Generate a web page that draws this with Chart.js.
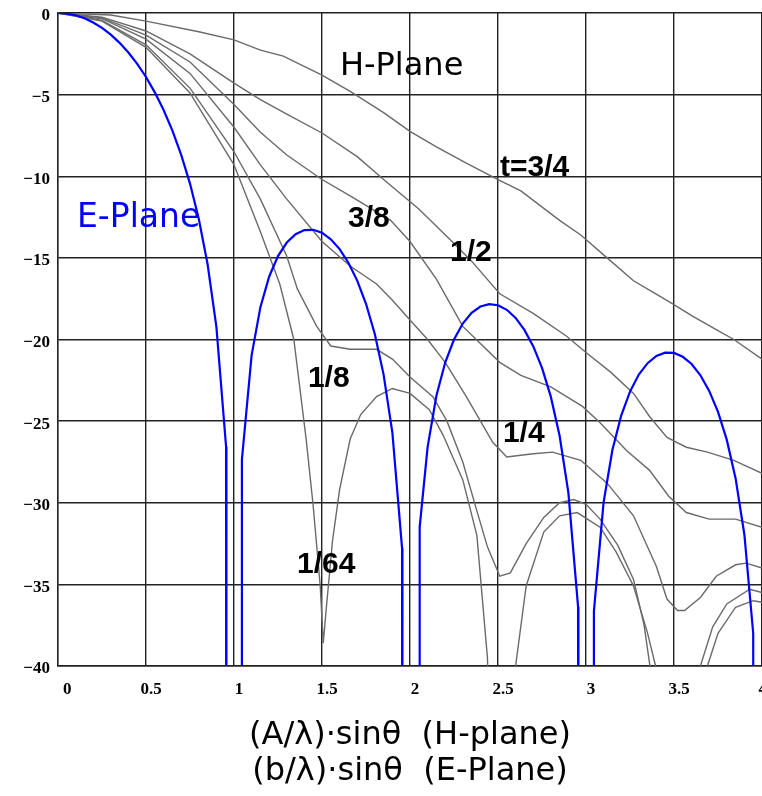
<!DOCTYPE html>
<html>
<head>
<meta charset="utf-8">
<script src="https://cdn.jsdelivr.net/npm/chart.js@4.4.1/dist/chart.umd.min.js"></script>
<style>
html,body{margin:0;padding:0;background:#fff;}
#wrap{width:762px;height:796px;position:relative;}
</style>
</head>
<body>
<div id="wrap"><canvas id="c" width="762" height="796"></canvas></div>
<script>
// ---- axes ----
const xTicks = [0, 0.5, 1, 1.5, 2, 2.5, 3, 3.5, 4];
const xTickLabels = ['0', '0.5', '1', '1.5', '2', '2.5', '3', '3.5', '4'];
const yTicks = [0, -5, -10, -15, -20, -25, -30, -35, -40];
const yTickLabels = ['0', '\u22125', '\u221210', '\u221215', '\u221220', '\u221225', '\u221230', '\u221235', '\u221240'];
const xAxisTitle = ['(A/\u03bb)\u00b7sin\u03b8  (H-plane)', '(b/\u03bb)\u00b7sin\u03b8  (E-Plane)'];

// ---- E-plane (blue) ----
const ePlaneU = [0, 0.05, 0.1, 0.15, 0.2, 0.25, 0.3, 0.35, 0.4, 0.45, 0.5, 0.55, 0.6, 0.65, 0.7, 0.75, 0.8, 0.85, 0.9, 0.955, 0.957,
  1.043, 1.045, 1.1, 1.15, 1.2, 1.25, 1.3, 1.35, 1.4, 1.45, 1.5, 1.55, 1.6, 1.65, 1.7, 1.75, 1.8, 1.85, 1.9, 1.955, 1.957,
  2.053, 2.055, 2.1, 2.15, 2.2, 2.25, 2.3, 2.35, 2.4, 2.45, 2.5, 2.55, 2.6, 2.65, 2.7, 2.75, 2.8, 2.85, 2.9, 2.955, 2.957,
  3.043, 3.045, 3.1, 3.15, 3.2, 3.25, 3.3, 3.35, 3.4, 3.45, 3.5, 3.55, 3.6, 3.65, 3.7, 3.75, 3.8, 3.85, 3.9, 3.95, 3.957, 4.0];
const ePlaneDb = [0, -0.04, -0.14, -0.32, -0.58, -0.91, -1.33, -1.83, -2.42, -3.12, -3.92, -4.86, -5.94, -7.20, -8.69, -10.45, -12.62, -15.39, -19.23, -26.57, -80,
  -80, -27.35, -20.97, -18.02, -16.14, -14.89, -14.06, -13.55, -13.30, -13.28, -13.46, -13.86, -14.46, -15.30, -16.39, -17.81, -19.66, -22.15, -25.72, -32.79, -80,
  -80, -31.49, -26.59, -23.45, -21.41, -20.00, -19.02, -18.37, -17.98, -17.83, -17.90, -18.18, -18.68, -19.41, -20.41, -21.74, -23.50, -25.90, -29.39, -36.38, -80,
  -80, -36.64, -29.97, -26.77, -24.66, -23.19, -22.15, -21.45, -21.01, -20.81, -20.82, -21.06, -21.50, -22.19, -23.15, -24.43, -26.15, -28.51, -31.96, -37.99, -80, -80];

// ---- H-plane (gray), one per phase error t ----
const t34U  = [0, 0.3, 0.5, 0.8, 1.0, 1.15, 1.28, 1.5, 1.66, 1.85, 2.0, 2.15, 2.32, 2.5, 2.63, 2.85, 2.97, 3.12, 3.27, 3.38, 3.49, 3.61, 3.74, 3.84, 4.0];
const t34Db = [0, -0.12, -0.5, -1.15, -1.65, -2.27, -2.64, -3.8, -4.8, -6.1, -7.25, -8.2, -9.2, -10.2, -10.9, -12.7, -13.6, -15.0, -16.4, -17.1, -17.8, -18.6, -19.4, -20.0, -21.2];

const t12U  = [0, 0.25, 0.5, 0.75, 1.0, 1.15, 1.3, 1.5, 1.7, 1.85, 2.05, 2.23, 2.35, 2.51, 2.7, 2.89, 3.0, 3.14, 3.27, 3.36, 3.46, 3.57, 3.69, 3.84, 4.0];
const t12Db = [0, -0.25, -1.1, -2.5, -4.3, -5.3, -6.2, -7.35, -8.8, -10.2, -12.0, -13.9, -15.2, -17.2, -18.4, -19.8, -20.8, -22.0, -23.3, -24.7, -26.0, -26.6, -26.9, -27.4, -28.2];

const t38U  = [0, 0.25, 0.5, 0.75, 1.0, 1.15, 1.3, 1.5, 1.66, 1.89, 2.0, 2.15, 2.3, 2.51, 2.63, 2.8, 2.98, 3.08, 3.23, 3.36, 3.47, 3.57, 3.7, 3.85, 4.0];
const t38Db = [0, -0.3, -1.35, -3.0, -5.6, -7.3, -8.7, -10.2, -11.2, -12.7, -14.0, -16.3, -19.2, -21.4, -22.2, -22.9, -24.1, -25.1, -26.8, -28.0, -29.6, -30.6, -31.0, -31.0, -31.5];

const t14U  = [0, 0.25, 0.5, 0.75, 1.0, 1.15, 1.3, 1.5, 1.66, 1.81, 1.9, 2.0, 2.1, 2.2, 2.32, 2.47, 2.55, 2.7, 2.81, 2.97, 3.12, 3.27, 3.4, 3.46, 3.52, 3.56, 3.65, 3.74, 3.85, 3.91, 4.0];
const t14Db = [0, -0.35, -1.6, -3.7, -7.0, -9.3, -11.4, -14.0, -15.5, -16.6, -17.6, -18.8, -20.0, -21.4, -23.5, -26.3, -27.2, -27.0, -26.9, -27.4, -28.8, -30.8, -33.9, -35.9, -36.6, -36.6, -35.8, -34.5, -33.8, -33.7, -34.0];

const t18U  = [0, 0.25, 0.5, 0.75, 1.0, 1.15, 1.3, 1.36, 1.47, 1.55, 1.66, 1.81, 1.9, 2.0, 2.13, 2.21, 2.3, 2.38, 2.44, 2.51, 2.57, 2.66, 2.76, 2.85, 2.93, 3.0, 3.08, 3.18, 3.27, 3.33, 3.37, 3.5, 3.65, 3.72, 3.8, 3.93, 4.0];
const t18Db = [0, -0.45, -1.95, -4.6, -8.5, -11.4, -14.9, -16.9, -19.2, -20.4, -20.6, -20.6, -21.2, -22.3, -23.5, -25.0, -27.5, -30.5, -32.7, -34.5, -34.3, -32.5, -30.9, -30.0, -29.8, -30.1, -31.0, -32.6, -34.7, -37.5, -40.5, -60, -40.0, -37.6, -36.2, -35.3, -35.5];

const t164U  = [0, 0.25, 0.5, 0.75, 1.0, 1.15, 1.26, 1.34, 1.41, 1.45, 1.49, 1.507, 1.525, 1.56, 1.6, 1.66, 1.72, 1.81, 1.9, 2.0, 2.11, 2.19, 2.3, 2.38, 2.44, 2.5, 2.6, 2.66, 2.76, 2.85, 2.95, 3.08, 3.17, 3.27, 3.35, 3.4, 3.5, 3.69, 3.75, 3.85, 3.95, 4.0];
const t164Db = [0, -0.5, -2.1, -4.9, -9.3, -13.4, -16.6, -20.0, -26.1, -30.2, -35.1, -38.6, -36.4, -32.3, -29.2, -26.1, -24.6, -23.5, -23.0, -23.3, -24.3, -25.9, -28.6, -32.0, -39.5, -60, -40.0, -35.1, -31.8, -30.8, -30.6, -31.5, -33.0, -35.1, -38.0, -40.2, -60, -40.0, -38.0, -36.4, -36.0, -36.1];

// ---- annotation texts and anchor values ----
const noteTexts = ['t=3/4', '3/8', '1/2', '1/8', '1/4', '1/64', 'H-Plane', 'E-Plane'];
const noteU     = [2.511, 1.648, 2.227, 1.420, 2.528, 1.358, 1.602, 0.108];
const noteDb    = [-9.98, -13.10, -15.19, -22.90, -26.27, -34.29, -3.80, -13.10];
const noteKind  = ['t', 't', 't', 't', 't', 't', 'h', 'e'];

const toPts = (us, dbs) => us.map((u, i) => ({ x: u, y: dbs[i] }));

const noteStyles = {
  t: { font: 'bold 30px "Liberation Sans", Arial, sans-serif', color: '#000' },
  h: { font: '32px "DejaVu Sans", "Noto Sans", sans-serif', color: '#000' },
  e: { font: '33px "DejaVu Sans", "Noto Sans", sans-serif', color: '#0000ff' }
};

const notesPlugin = {
  id: 'notes',
  afterDatasetsDraw(chart) {
    const ctx = chart.ctx;
    const xs = chart.scales.x, ys = chart.scales.y;
    ctx.save();
    ctx.textAlign = 'left';
    ctx.textBaseline = 'alphabetic';
    noteTexts.forEach((txt, i) => {
      const st = noteStyles[noteKind[i]];
      ctx.font = st.font;
      ctx.fillStyle = st.color;
      ctx.fillText(txt, xs.getPixelForValue(noteU[i]), ys.getPixelForValue(noteDb[i]));
    });
    ctx.restore();
  }
};

const grayStyle = { borderColor: '#6a6a6a', borderWidth: 1.4, pointRadius: 0, showLine: true, tension: 0, fill: false };

new Chart(document.getElementById('c'), {
  type: 'scatter',
  data: {
    datasets: [
      { label: 'E-Plane', data: toPts(ePlaneU, ePlaneDb), borderColor: '#0000ff', borderWidth: 2.2, pointRadius: 0, showLine: true, tension: 0, fill: false },
      Object.assign({ label: 't=3/4', data: toPts(t34U, t34Db) }, grayStyle),
      Object.assign({ label: 't=1/2', data: toPts(t12U, t12Db) }, grayStyle),
      Object.assign({ label: 't=3/8', data: toPts(t38U, t38Db) }, grayStyle),
      Object.assign({ label: 't=1/4', data: toPts(t14U, t14Db) }, grayStyle),
      Object.assign({ label: 't=1/8', data: toPts(t18U, t18Db) }, grayStyle),
      Object.assign({ label: 't=1/64', data: toPts(t164U, t164Db) }, grayStyle)
    ]
  },
  options: {
    responsive: false,
    animation: false,
    devicePixelRatio: 1,
    layout: { padding: { top: 13, right: 0, bottom: 6, left: 0 } },
    plugins: { legend: { display: false }, tooltip: { enabled: false } },
    scales: {
      x: {
        type: 'linear', min: 0, max: 4,
        afterBuildTicks(s) { s.ticks = xTicks.map(v => ({ value: v })); },
        afterFit(s) { s.height = 124; s.paddingLeft = 0; s.paddingRight = 0; },
        grid: { color: '#222', lineWidth: 1.4, drawTicks: false },
        border: { color: '#222', width: 1.4 },
        ticks: {
          padding: 13, labelOffset: 5, align: 'inner', maxRotation: 0, autoSkip: false, color: '#000',
          font: { family: '"Liberation Serif", "Times New Roman", serif', size: 17, weight: 'bold' },
          callback: (v) => { const i = xTicks.indexOf(v); return i >= 0 ? xTickLabels[i] : ''; }
        },
        title: {
          display: true, text: xAxisTitle, color: '#000',
          font: { family: '"DejaVu Sans", "Noto Sans", sans-serif', size: 32, lineHeight: 1.125 },
          padding: { top: 0, bottom: 0 }
        }
      },
      y: {
        type: 'linear', min: -40, max: 0,
        afterBuildTicks(s) { s.ticks = yTicks.map(v => ({ value: v })); },
        afterFit(s) { s.width = 58; s.paddingTop = 0; s.paddingBottom = 0; },
        grid: { color: '#222', lineWidth: 1.4, drawTicks: false },
        border: { color: '#222', width: 1.4 },
        ticks: {
          padding: 8, labelOffset: 3, autoSkip: false, color: '#000',
          font: { family: '"Liberation Serif", "Times New Roman", serif', size: 17, weight: 'bold' },
          callback: (v) => { const i = yTicks.indexOf(v); return i >= 0 ? yTickLabels[i] : ''; }
        }
      }
    }
  },
  plugins: [notesPlugin]
});
</script>
</body>
</html>
